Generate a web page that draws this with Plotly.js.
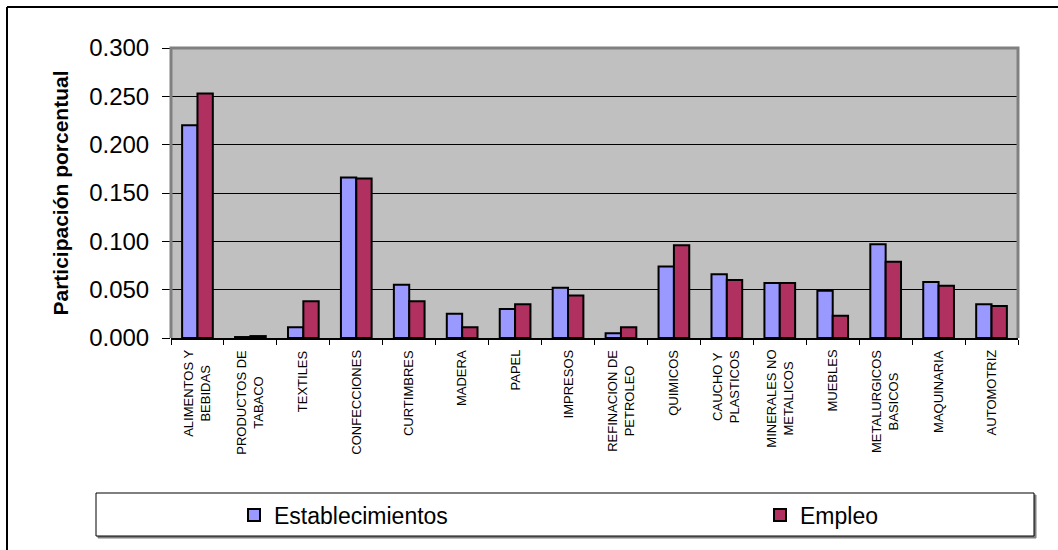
<!DOCTYPE html>
<html>
<head>
<meta charset="utf-8">
<script src="https://cdn.plot.ly/plotly-3.0.1.min.js"></script>
<style>
html,body{margin:0;padding:0;background:#fff;}
#chart{width:1058px;height:550px;}
</style>
</head>
<body>
<div id="chart"></div>
<script>
// ---- data ----
var categories = ['ALIMENTOS Y BEBIDAS', 'PRODUCTOS DE TABACO', 'TEXTILES', 'CONFECCIONES', 'CURTIMBRES', 'MADERA', 'PAPEL', 'IMPRESOS', 'REFINACION DE PETROLEO', 'QUIMICOS', 'CAUCHO Y PLASTICOS', 'MINERALES NO METALICOS', 'MUEBLES', 'METALURGICOS BASICOS', 'MAQUINARIA', 'AUTOMOTRIZ'];
var tickLabels = ['ALIMENTOS Y<br>BEBIDAS', 'PRODUCTOS DE<br>TABACO', 'TEXTILES', 'CONFECCIONES', 'CURTIMBRES', 'MADERA', 'PAPEL', 'IMPRESOS', 'REFINACION DE<br>PETROLEO', 'QUIMICOS', 'CAUCHO Y<br>PLASTICOS', 'MINERALES NO<br>METALICOS', 'MUEBLES', 'METALURGICOS<br>BASICOS', 'MAQUINARIA', 'AUTOMOTRIZ'];
var establecimientos = [0.220, 0.001, 0.011, 0.166, 0.055, 0.025, 0.030, 0.052, 0.005, 0.074, 0.066, 0.057, 0.049, 0.097, 0.058, 0.035];
var empleo = [0.253, 0.002, 0.038, 0.165, 0.038, 0.011, 0.035, 0.044, 0.011, 0.096, 0.060, 0.057, 0.023, 0.079, 0.054, 0.033];
var seriesNames = ['Establecimientos', 'Empleo'];
var yTickValues = [0, 0.05, 0.10, 0.15, 0.20, 0.25, 0.30];

var FONT = 'Arial, "Liberation Sans", sans-serif';

var traces = [
  {type: 'bar', name: seriesNames[0], x: categories, y: establecimientos, legend: 'legend',
   marker: {color: '#9999FF', line: {color: '#000000', width: 2}}, hoverinfo: 'skip'},
  {type: 'bar', name: seriesNames[1], x: categories, y: empleo, legend: 'legend2',
   marker: {color: '#B03060', line: {color: '#000000', width: 2}}, hoverinfo: 'skip'}
];

var annotations = categories.map(function (c, i) {
  return {xref: 'x', yref: 'paper', x: c, y: -0.034, xanchor: 'center', yanchor: 'top',
          text: tickLabels[i], textangle: -90, align: 'center', showarrow: false,
          font: {family: FONT, size: 13, color: '#000'}};
});

// plot area: left 171, right 1018, top 48, bottom 338 (px)
function px(x) { return (x - 171) / 847; }
function py(y) { return (338 - y) / 290; }

var shapes = [
  // outer frame (top & left)
  {type: 'line', xref: 'paper', yref: 'paper', x0: px(7), x1: px(1060), y0: py(7), y1: py(7), line: {color: '#000', width: 2}},
  {type: 'line', xref: 'paper', yref: 'paper', x0: px(7), x1: px(7), y0: py(7), y1: py(552), line: {color: '#000', width: 2}},
  // plot border grey (left, top, right)
  {type: 'path', xref: 'paper', yref: 'paper', path: 'M0,0 L0,1 L1,1 L1,0', line: {color: '#808080', width: 3}, layer: 'above'},
  // legend box shadow and box
  {type: 'rect', xref: 'paper', yref: 'paper', x0: px(98), x1: px(1036), y0: py(538), y1: py(495), line: {color: '#808080', width: 1}, fillcolor: '#808080', layer: 'below'},
  {type: 'rect', xref: 'paper', yref: 'paper', x0: px(96), x1: px(1034), y0: py(536), y1: py(493), line: {color: '#000', width: 1}, fillcolor: '#ffffff', layer: 'below'}
];

var legendBase = {orientation: 'h', xanchor: 'left', y: py(515), yanchor: 'middle',
                  bgcolor: 'rgba(0,0,0,0)', borderwidth: 0,
                  font: {family: FONT, size: 23, color: '#000'}};

var layout = {
  width: 1058, height: 550,
  margin: {l: 171, r: 40, t: 48, b: 212, pad: 0},
  paper_bgcolor: '#ffffff',
  plot_bgcolor: '#C0C0C0',
  font: {family: FONT, color: '#000'},
  barmode: 'group',
  bargap: 0.42,
  bargroupgap: 0,
  showlegend: true,
  legend: Object.assign({}, legendBase, {x: px(234)}),
  legend2: Object.assign({}, legendBase, {x: px(760)}),
  xaxis: {type: 'category', categoryorder: 'array', categoryarray: categories,
          showticklabels: false, ticks: 'outside', ticklen: 5, tickwidth: 1, tickcolor: '#000',
          tickson: 'boundaries', showline: true, linecolor: '#000', linewidth: 2,
          showgrid: false, zeroline: false, fixedrange: true},
  yaxis: {range: [0, 0.3], tickvals: yTickValues, tickformat: '.3f',
          ticks: 'outside', ticklen: 8, tickwidth: 1, tickcolor: '#000',
          ticklabelstandoff: 8,
          tickfont: {family: FONT, size: 24, color: '#000'},
          showline: false, showgrid: true, gridcolor: '#000000', gridwidth: 1,
          zeroline: false, fixedrange: true,
          title: {text: 'Participación porcentual', standoff: 14,
                  font: {family: FONT, size: 21, color: '#000', weight: 'bold'}}},
  annotations: annotations,
  shapes: shapes
};

Plotly.newPlot('chart', traces, layout, {staticPlot: true, displayModeBar: false});
</script>
</body>
</html>
